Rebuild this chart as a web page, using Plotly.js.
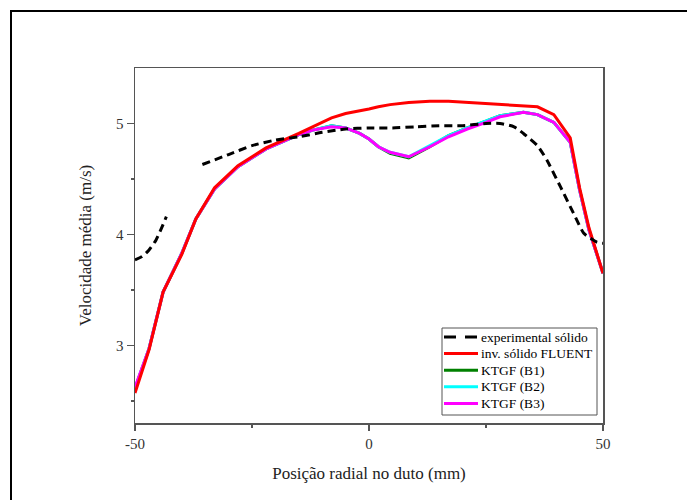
<!DOCTYPE html>
<html>
<head>
<meta charset="utf-8">
<script src="https://cdn.plot.ly/plotly-3.0.1.min.js"></script>
<style>
  html, body { margin: 0; padding: 0; background: #fff; }
  #wrap { position: relative; width: 687px; height: 500px; overflow: hidden; }
  #chart { position: absolute; left: 0; top: 0; width: 687px; height: 500px; }
  #frame { position: absolute; left: 10px; top: 10px; width: 700px; height: 520px;
           border-left: 2px solid #000; border-top: 2px solid #000; pointer-events: none; }
</style>
</head>
<body>
<div id="wrap">
  <div id="chart"></div>
  <div id="frame"></div>
</div>
<script>
// Experimental (two separate measured segments; null marks the gap)
const expX = [-50, -48.5, -47, -45.5, -43.3, null, -35.6, -30, -25, -20, -15, -10, -5, 0, 5, 10, 15, 20, 25, 28, 31, 33, 36, 38, 40.9, 43.7, 45.9, 47.5, 48.7, 50];
const expY = [3.77, 3.80, 3.86, 3.95, 4.16, null, 4.63, 4.72, 4.80, 4.85, 4.88, 4.92, 4.95, 4.96, 4.96, 4.97, 4.98, 4.98, 5.00, 5.00, 4.97, 4.91, 4.80, 4.67, 4.43, 4.19, 4.01, 3.96, 3.93, 3.92];

// Simulation x positions
const simX = [-50, -47, -44, -40, -37, -33, -28, -22, -15, -12, -8, -5, -2, 0, 2, 4.5, 8.5, 13, 17, 21, 25, 28, 33, 36, 39.5, 43, 45, 47, 50];

const fluentY = [2.57, 2.96, 3.48, 3.82, 4.14, 4.42, 4.62, 4.78, 4.91, 4.97, 5.05, 5.09, 5.11, 5.13, 5.15, 5.17, 5.19, 5.20, 5.20, 5.19, 5.18, 5.17, 5.16, 5.15, 5.08, 4.87, 4.42, 4.06, 3.65];
const b1Y    = [2.61, 2.97, 3.48, 3.83, 4.14, 4.41, 4.61, 4.77, 4.90, 4.94, 4.98, 4.96, 4.91, 4.86, 4.79, 4.73, 4.69, 4.79, 4.89, 4.96, 5.02, 5.07, 5.10, 5.08, 5.01, 4.83, 4.40, 4.04, 3.65];
const b2Y    = [2.61, 2.97, 3.48, 3.83, 4.14, 4.41, 4.61, 4.77, 4.90, 4.94, 4.98, 4.96, 4.91, 4.86, 4.79, 4.74, 4.70, 4.80, 4.89, 4.96, 5.02, 5.07, 5.10, 5.08, 5.01, 4.83, 4.40, 4.04, 3.65];
const b3Y    = [2.62, 2.97, 3.48, 3.83, 4.14, 4.41, 4.61, 4.77, 4.90, 4.94, 4.97, 4.96, 4.91, 4.86, 4.79, 4.74, 4.70, 4.79, 4.88, 4.95, 5.01, 5.06, 5.10, 5.08, 5.01, 4.83, 4.40, 4.04, 3.65];

const names = ["experimental sólido", "inv. sólido FLUENT", "KTGF (B1)", "KTGF (B2)", "KTGF (B3)"];
const colors = ["#000000", "#ff0000", "#008000", "#00ffff", "#ff00ff"];
const dashes = ["12px,9px", "solid", "solid", "solid", "solid"];
const xTicks = [-50, 0, 50];
const yTicks = [3, 4, 5];

const font = "Liberation Serif, Times New Roman, serif";

const traces = [
  {x: simX, y: b1Y, name: names[2], mode: "lines", line: {color: colors[2], width: 3}},
  {x: simX, y: b2Y, name: names[3], mode: "lines", line: {color: colors[3], width: 3}},
  {x: simX, y: b3Y, name: names[4], mode: "lines", line: {color: colors[4], width: 3}},
  {x: simX, y: fluentY, name: names[1], mode: "lines", line: {color: colors[1], width: 3}},
  {x: expX, y: expY, name: names[0], mode: "lines", connectgaps: false,
   line: {color: colors[0], width: 3, dash: "8px,5px", shape: "spline", smoothing: 0.6}}
];

// Legend box (drawn in paper coordinates, compact like the original)
const plotL = 135, plotW = 468, plotB = 423, plotH = 355;
const px2x = p => (p - plotL) / plotW;
const py2y = p => (plotB - p) / plotH;
const shapes = [{
  type: "rect", xref: "paper", yref: "paper", layer: "above",
  x0: px2x(442), x1: px2x(597), y0: py2y(415), y1: py2y(328),
  fillcolor: "#ffffff", line: {color: "#555", width: 1}
}];
const annotations = [];
names.forEach((n, i) => {
  const yc = py2y(337 + 16.6 * i);
  shapes.push({type: "line", xref: "paper", yref: "paper", layer: "above",
    x0: px2x(444), x1: px2x(478), y0: yc, y1: yc,
    line: {color: colors[i], width: 3, dash: dashes[i]}});
  annotations.push({xref: "paper", yref: "paper", x: px2x(479), y: yc,
    xanchor: "left", yanchor: "middle", showarrow: false, text: n,
    font: {family: font, size: 13.5, color: "#000"}});
});

const layout = {
  width: 687, height: 500,
  margin: {l: 135, r: 84, t: 68, b: 77},
  paper_bgcolor: "rgba(0,0,0,0)",
  plot_bgcolor: "#ffffff",
  font: {family: font, color: "#333", size: 14},
  showlegend: false,
  shapes: shapes,
  annotations: annotations,
  xaxis: {
    range: [-50, 50], tickvals: xTicks, ticktext: xTicks.map(String),
    ticks: "outside", ticklen: 6, tickwidth: 1.5, tickcolor: "#555",
    showline: true, linecolor: "#555", linewidth: 1.5, mirror: true,
    showgrid: false, zeroline: false,
    minor: {tickvals: [-25, 25], ticks: "outside", ticklen: 3, tickcolor: "#555", tickwidth: 1.5},
    tickfont: {family: font, size: 15, color: "#333"},
    title: {text: "Posição radial no duto (mm)", font: {family: font, size: 17, color: "#222"}, standoff: 16}
  },
  yaxis: {
    range: [2.3, 5.5], tickvals: yTicks, ticktext: yTicks.map(String),
    ticks: "outside", ticklen: 7, tickwidth: 1.5, tickcolor: "#555",
    showline: true, linecolor: "#555", linewidth: 1.5, mirror: true,
    showgrid: false, zeroline: false,
    minor: {tickvals: [2.5, 3.5, 4.5], ticks: "outside", ticklen: 3, tickcolor: "#555", tickwidth: 1.5},
    tickfont: {family: font, size: 15, color: "#333"},
    title: {text: "Velocidade média (m/s)", font: {family: font, size: 17, color: "#222"}, standoff: 20}
  }
};

Plotly.newPlot("chart", traces, layout, {displayModeBar: false, staticPlot: true});
</script>
</body>
</html>
